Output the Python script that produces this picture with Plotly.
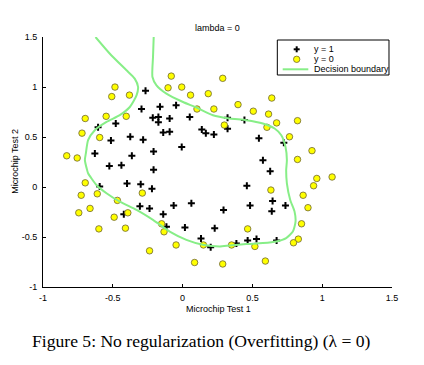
import plotly.graph_objects as go

# ---- data (ex2data2-like microchip tests) ----
pos_x = [0.051267, -0.092742, -0.21371, -0.375, -0.51325, -0.52477, -0.39804, -0.30588, 0.016705, 0.13191,
         0.38537, 0.52938, 0.63882, 0.73675, 0.54666, 0.322, 0.16647, -0.046659, -0.17339, -0.47869,
         -0.60541, -0.62846, -0.59389, -0.42108, -0.11578, 0.20104, 0.46601, 0.67339, -0.13882, -0.29435,
         -0.26555, -0.16187, -0.17339, -0.28283, -0.36348, -0.30012, -0.23675, -0.06394, 0.062788, 0.22984,
         0.2932, 0.48329, 0.64459, 0.46025, 0.6273, 0.57546, 0.72523, 0.22408, 0.44297, 0.322,
         0.13767, -0.0063364, -0.092742, -0.20795, -0.20795, -0.43836, -0.21947, -0.13882]
pos_y = [0.69956, 0.68494, 0.69225, 0.50219, 0.46564, 0.2098, 0.034357, -0.19225, -0.40424, -0.51389,
         -0.56506, -0.5212, -0.24342, -0.18494, 0.48757, 0.5826, 0.53874, 0.81652, 0.69956, 0.63377,
         0.59722, 0.33406, 0.005117, -0.27266, -0.39693, -0.60161, -0.53582, -0.53582, 0.54605, 0.77997,
         0.96272, 0.8019, 0.64839, 0.47295, 0.31213, 0.027047, -0.21418, -0.18494, -0.16301, -0.41155,
         -0.2288, -0.18494, -0.14108, 0.012427, 0.15863, 0.26827, 0.44371, 0.52412, 0.67032, 0.69225,
         0.57529, 0.39985, 0.55336, 0.35599, 0.17325, 0.21711, -0.016813, -0.27266]
neg_x = [0.18376, 0.22408, 0.29896, 0.50634, 0.61578, 0.60426, 0.76555, 0.92684, 0.82316, 0.96141,
         0.93836, 0.86348, 0.89804, 0.85196, 0.82892, 0.79435, 0.59274, 0.51786, 0.46601, 0.35081,
         0.28744, 0.085829, 0.14919, -0.13306, -0.40956, -0.39228, -0.74366, -0.69758, -0.75518, -0.69758,
         -0.4038, -0.38076, -0.50749, -0.54781, 0.10311, 0.057028, -0.10426, -0.081221, 0.28744, 0.39689,
         0.63882, 0.82316, 0.67339, 1.0709, -0.046659, -0.23675, -0.15035, -0.49021, -0.46717, -0.28859,
         -0.61118, -0.66302, -0.59965, -0.72638, -0.83007, -0.72062, -0.59389, -0.48445, -0.0063364, 0.63265]
neg_y = [0.93348, 0.77997, 0.61915, 0.75804, 0.7288, 0.59722, 0.50219, 0.3633, 0.27558, 0.085526,
         0.012427, -0.082602, -0.20687, -0.36769, -0.5212, -0.55775, -0.7405, -0.5943, -0.41886, -0.57968,
         -0.76974, -0.75512, -0.57968, -0.4481, -0.41155, -0.25804, -0.25804, 0.041667, 0.2902, 0.68494,
         0.70687, 0.91886, 0.90424, 0.70687, 0.77997, 0.91886, 0.99196, 1.1089, 1.087, 0.82383,
         0.88962, 0.66301, 0.64108, 0.10015, -0.57968, -0.63816, -0.36769, -0.3019, -0.13377, -0.060673,
         -0.067982, -0.21418, -0.41886, -0.082602, 0.31213, 0.53874, 0.49488, 0.99927, 0.99927, -0.030612]

# decision boundary
db_x = [-0.624, -0.521, -0.402, -0.343, -0.319, -0.330, -0.378, -0.450, -0.545, -0.629,
        -0.677, -0.693, -0.700, -0.684, -0.677, -0.617, -0.545, -0.450, -0.330, -0.212,
        -0.092, 0.027, 0.146, 0.265, 0.337, 0.456, 0.575, 0.671, 0.742, 0.790,
        0.809, 0.802, 0.771, 0.747, 0.742, 0.747, 0.737, 0.707, 0.659, 0.575,
        0.456, 0.337, 0.217, 0.099, 0.003, -0.116, -0.187, -0.216, -0.212, -0.207]
db_y = [1.50, 1.333, 1.167, 1.084, 1.000, 0.917, 0.800, 0.718, 0.651, 0.568,
        0.469, 0.336, 0.269, 0.169, 0.137, 0.020, -0.063, -0.147, -0.229, -0.329,
        -0.446, -0.529, -0.578, -0.595, -0.585, -0.571, -0.561, -0.545, -0.511, -0.446,
        -0.346, -0.246, -0.130, 0.037, 0.169, 0.269, 0.402, 0.518, 0.585, 0.635,
        0.668, 0.685, 0.718, 0.795, 0.850, 0.934, 1.017, 1.100, 1.299, 1.50]

tick_vals = [-1, -0.5, 0, 0.5, 1, 1.5]
tick_text = ["-1", "-0.5", "0", "0.5", "1", "1.5"]

GREEN = "rgb(135,238,135)"
YELLOW = "rgb(255,255,0)"
EDGE = "rgb(110,100,50)"
FONT = "Liberation Sans, Arial, sans-serif"

fig = go.Figure()
fig.add_trace(go.Scatter(x=pos_x, y=pos_y, mode="markers", name="y = 1",
                         marker=dict(symbol="cross-thin", size=5, color="black",
                                     line=dict(color="black", width=2))))
fig.add_trace(go.Scatter(x=neg_x, y=neg_y, mode="markers", name="y = 0",
                         marker=dict(symbol="circle", size=6.5, color=YELLOW,
                                     line=dict(color=EDGE, width=0.8))))
fig.add_trace(go.Scatter(x=db_x, y=db_y, mode="lines", name="Decision boundary",
                         line=dict(color=GREEN, width=2, shape="spline", smoothing=0.6)))

axis_common = dict(range=[-1, 1.5], tickvals=tick_vals, ticktext=tick_text,
                   ticks="inside", ticklen=3, tickwidth=1, tickcolor="black",
                   showline=True, linecolor="black", linewidth=1, mirror=False,
                   showgrid=False, zeroline=False,
                   tickfont=dict(family=FONT, size=9, color="black"))
fig.update_xaxes(**axis_common, ticklabelstandoff=2)
fig.update_yaxes(**axis_common, ticklabelstandoff=3)

# manual compact legend (paper coords; plot area 349 x 250 px)
px = 1 / 349
py = 1 / 250
shapes = [
    dict(type="rect", xref="paper", yref="paper", x0=0.6714, x1=0.9914, y0=0.848, y1=0.988,
         line=dict(color="black", width=1), fillcolor="white", layer="above"),
    dict(type="line", xref="paper", yref="paper", x0=0.7269 - 3 * px, x1=0.7269 + 3 * px,
         y0=0.9508, y1=0.9508, line=dict(color="black", width=2), layer="above"),
    dict(type="line", xref="paper", yref="paper", x0=0.7269, x1=0.7269,
         y0=0.9508 - 3 * py, y1=0.9508 + 3 * py, line=dict(color="black", width=2), layer="above"),
    dict(type="circle", xref="paper", yref="paper", x0=0.7269 - 3.2 * px, x1=0.7269 + 3.2 * px,
         y0=0.9108 - 3.2 * py, y1=0.9108 + 3.2 * py, fillcolor=YELLOW,
         line=dict(color=EDGE, width=0.8), layer="above"),
    dict(type="line", xref="paper", yref="paper", x0=0.6868, x1=0.7602,
         y0=0.8708, y1=0.8708, line=dict(color=GREEN, width=2), layer="above"),
]
legend_labels = ["y = 1", "y = 0", "Decision boundary"]
legend_ys = [0.9508, 0.9108, 0.8708]
annotations = [dict(text=t, x=0.7699, y=yy, xref="paper", yref="paper", xanchor="left",
                    yanchor="middle", showarrow=False,
                    font=dict(family=FONT, size=9, color="black"))
               for t, yy in zip(legend_labels, legend_ys)]

annotations += [
    dict(text="lambda = 0", x=0.4986, y=1.036, xref="paper", yref="paper", xanchor="center",
         yanchor="middle", showarrow=False, font=dict(family=FONT, size=9, color="black")),
    dict(text="Microchip Test 1", x=0.502, y=-0.088, xref="paper", yref="paper", xanchor="center",
         yanchor="middle", showarrow=False, font=dict(family=FONT, size=9, color="black")),
    dict(text="Microchip Test 2", x=-0.0802, y=0.501, xref="paper", yref="paper", xanchor="center",
         yanchor="middle", showarrow=False, textangle=-90,
         font=dict(family=FONT, size=9, color="black")),
    dict(text="Figure 5: No regularization (Overfitting) (λ = 0)", x=0.4542, y=-0.2148,
         xref="paper", yref="paper", xanchor="center", yanchor="middle", showarrow=False,
         font=dict(family="Liberation Serif, DejaVu Serif, serif", size=17.6, color="black")),
]

fig.update_layout(width=424, height=365, margin=dict(l=43, r=32, t=37, b=78),
                  paper_bgcolor="white", plot_bgcolor="white", showlegend=False,
                  shapes=shapes, annotations=annotations)

fig.write_html("out.html", config={"displayModeBar": False},
               post_script="document.body.style.margin='0';")
